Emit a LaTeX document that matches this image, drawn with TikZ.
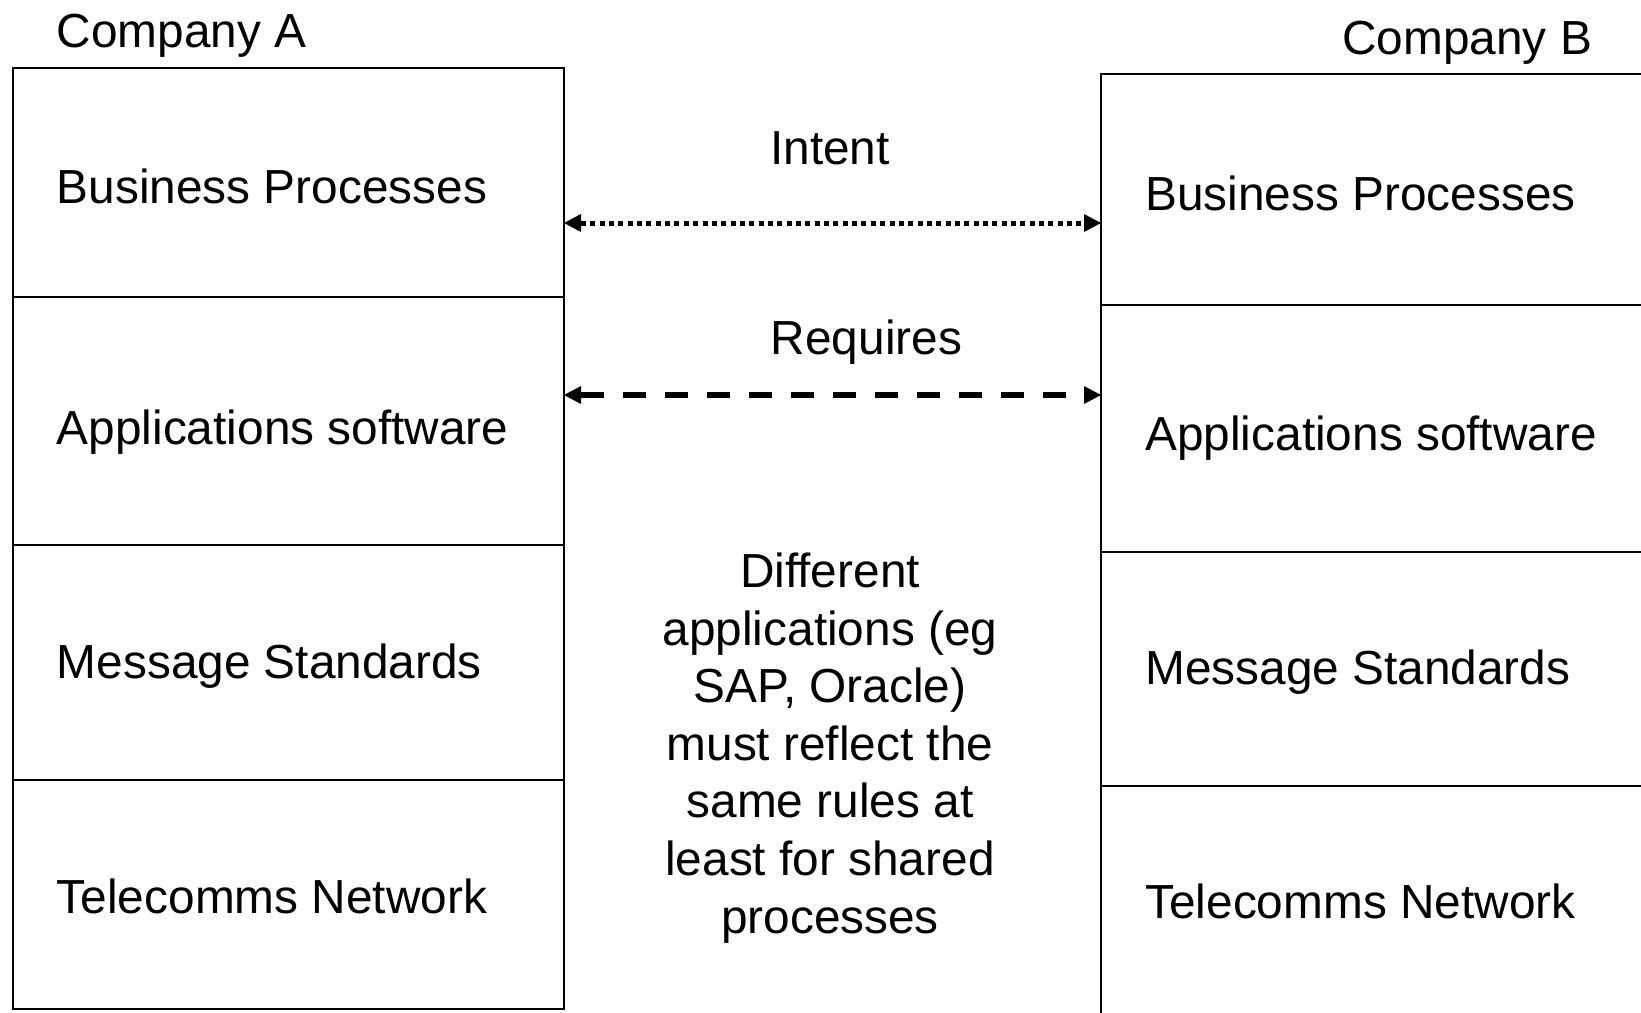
\documentclass[tikz,border=0pt]{standalone}
\usepackage{fontspec}
\setmainfont{Liberation Sans}
\usetikzlibrary{arrows.meta}

\newcommand{\layerfont}{\fontsize{27.2pt}{32.8pt}\selectfont}

\tikzset{
	layer/.style={anchor=base west,inner sep=0pt,font=\layerfont},
	tag/.style={anchor=base,inner sep=0pt,font=\layerfont},
	stack/.style={line width=0.9pt},
	tip/.style={{Triangle[length=0.34cm,width=0.36cm,line width=0pt]}-{Triangle[length=0.34cm,width=0.36cm,line width=0pt]}},
	intent/.style={tip,line width=0.1cm,dash pattern=on 0.1cm off 0.087cm},
	requires/.style={tip,line width=0.11cm,dash pattern=on 0.46cm off 0.38cm}
}

\begin{document}
\begin{tikzpicture}[x=0.02cm,y=-0.02cm]
		\clip (0,0) rectangle (1641,1012);
%		\draw[help lines] (0,0) grid[step=100] (1641,1012);
		\path (13,68) coordinate (a_tl);
		\path (564,1009) coordinate (a_br);
		\path (1101,74) coordinate (b_tl);
		\path (1700,1060) coordinate (b_br);

		\path (564,223) coordinate (intent_l);
		\path (1101,223) coordinate (intent_r);
		\path (564,395) coordinate (req_l);
		\path (1101,395) coordinate (req_r);

		% Company A
		\draw[stack] (a_tl) rectangle (a_br);
		\draw[stack] (13,297) -- (564,297);
		\draw[stack] (13,545) -- (564,545);
		\draw[stack] (13,780) -- (564,780);
		\node[layer] (compA) at (56.5,47) {Company A};
		\node[layer] (bpA) at (56.5,203) {Business Processes};
		\node[layer] (appA) at (56.5,444) {Applications software};
		\node[layer] (msgA) at (56.5,678) {Message Standards};
		\node[layer] (telA) at (56.5,913) {Telecomms Network};

		% Company B
		\draw[stack] (b_tl) rectangle (b_br);
		\draw[stack] (1101,305) -- (1700,305);
		\draw[stack] (1101,552) -- (1700,552);
		\draw[stack] (1101,786) -- (1700,786);
		\node[layer] (compB) at (1342,54.5) {Company B};
		\node[layer] (bpB) at (1145,210) {Business Processes};
		\node[layer] (appB) at (1145,450) {Applications software};
		\node[layer] (msgB) at (1145,684.5) {Message Standards};
		\node[layer] (telB) at (1145,918) {Telecomms Network};

		% links
		\draw[intent] (intent_l) -- (intent_r);
		\node[tag] (intent) at (830,164) {Intent};
		\draw[requires] (req_l) -- (req_r);
		\node[tag] (req) at (866.5,354) {Requires};

		\node[inner sep=0pt,align=center,font=\layerfont] (rules) at (830,748) {Different\\applications (eg\\SAP, Oracle)\\must reflect the\\same rules at\\least for shared\\processes};
	\end{tikzpicture}
\end{document}
